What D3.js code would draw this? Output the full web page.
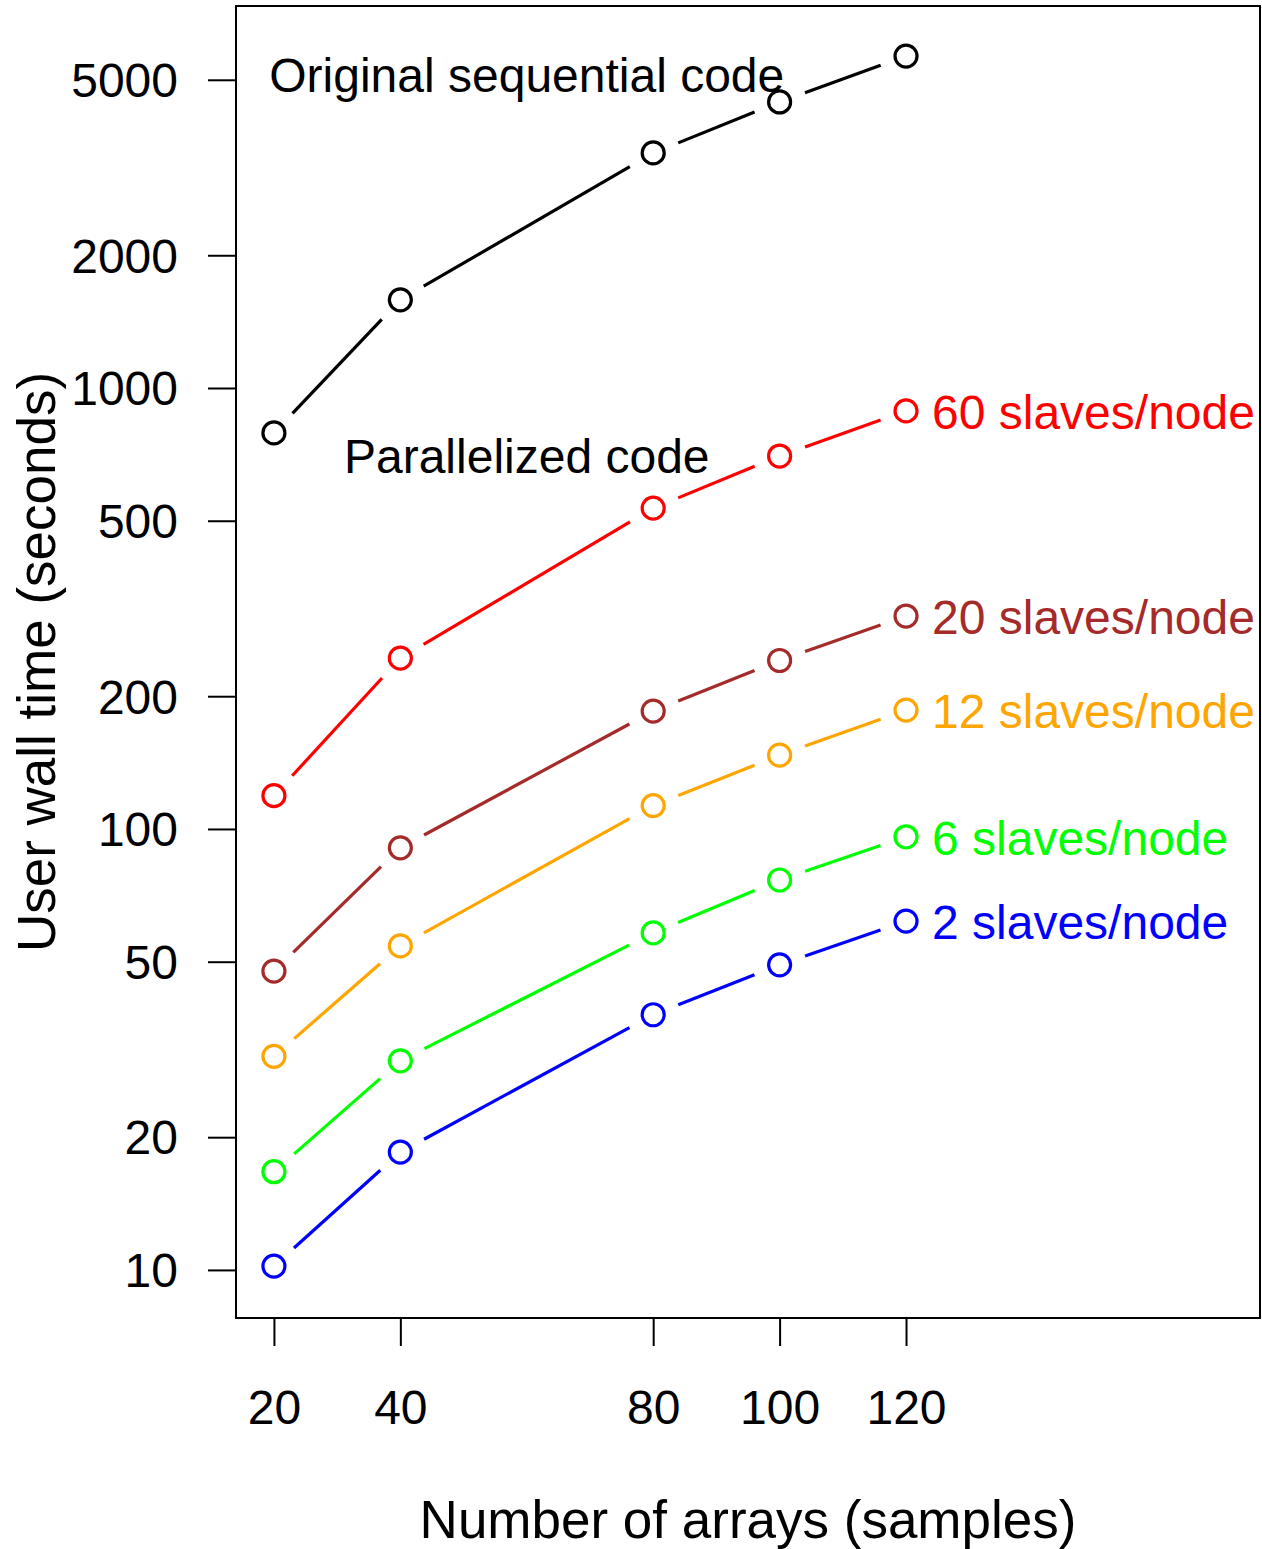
<!DOCTYPE html>
<html><head><meta charset="utf-8">
<script src="https://cdn.jsdelivr.net/npm/d3@7"></script>
<style>body{margin:0;background:#fff}text{font-family:"Liberation Sans",Arial,sans-serif}</style>
</head><body><svg id="c" width="1262" height="1549"></svg>
<script>
const arrays = [20, 40, 80, 100, 120];
const seqTimes = [791, 1585, 3412, 4453, 5660];
const s60 = [119, 244, 534, 701, 887];
const s20 = [47.6, 90.6, 185, 241, 304];
const s12 = [30.5, 54.3, 113, 147, 186];
const s6 = [16.7, 29.8, 58.1, 76.6, 96.0];
const s2 = [10.2, 18.5, 37.9, 49.2, 61.8];
const seriesNames = ["Original", "60 slaves/node", "20 slaves/node", "12 slaves/node", "6 slaves/node", "2 slaves/node"];
const seriesColors = ["#000000", "#FF0000", "#A52A2A", "#FFA500", "#00FF00", "#0000FF"];
const seriesValues = [seqTimes, s60, s20, s12, s6, s2];
const yTicks = [10, 20, 50, 100, 200, 500, 1000, 2000, 5000];
const xTicks = [20, 40, 80, 100, 120];

const svg = d3.select("#c");
const L = 236, R = 1260, T = 6, B = 1318;
const x = d3.scaleLinear().domain([14, 176]).range([L, R]);
const y = d3.scaleLog().domain([7.78, 7350]).range([B, T]);

svg.append("rect").attr("x", L).attr("y", T).attr("width", R - L).attr("height", B - T)
  .attr("fill", "none").attr("stroke", "#000").attr("stroke-width", 2);

const yAxis = svg.append("g").attr("transform", `translate(${L},0)`)
  .call(d3.axisLeft(y).tickValues(yTicks).tickFormat(d3.format("d")).tickSize(28).tickPadding(30));
yAxis.select(".domain").remove();
yAxis.selectAll("line").attr("stroke-width", 2);
yAxis.selectAll("text").attr("font-size", 48).attr("fill", "#000").attr("dy", "0.35em");

const xAxis = svg.append("g").attr("transform", `translate(0,${B})`)
  .call(d3.axisBottom(x).tickValues(xTicks).tickFormat(d3.format("d")).tickSize(28).tickPadding(44));
xAxis.select(".domain").remove();
xAxis.selectAll("line").attr("stroke-width", 2);
xAxis.selectAll("text").attr("font-size", 48).attr("fill", "#000").attr("dy", "0.71em");

svg.append("text").attr("x", (L + R) / 2).attr("y", 1538).attr("text-anchor", "middle")
  .attr("font-size", 53).text("Number of arrays (samples)");
svg.append("text").attr("transform", `translate(55,${(T + B) / 2}) rotate(-90)`).attr("text-anchor", "middle")
  .attr("font-size", 53).text("User wall time (seconds)");

const gap = 27, r = 11;
seriesValues.forEach((vals, si) => {
  const col = seriesColors[si];
  const pts = vals.map((v, i) => [x(arrays[i]), y(v)]);
  for (let i = 0; i < pts.length - 1; i++) {
    const [x1, y1] = pts[i], [x2, y2] = pts[i + 1];
    const dx = x2 - x1, dy = y2 - y1, len = Math.hypot(dx, dy);
    if (len <= 2 * gap) continue;
    const ux = dx / len, uy = dy / len;
    svg.append("line").attr("x1", x1 + ux * gap).attr("y1", y1 + uy * gap)
      .attr("x2", x2 - ux * gap).attr("y2", y2 - uy * gap)
      .attr("stroke", col).attr("stroke-width", 3.2);
  }
  svg.append("g").selectAll("circle").data(pts).join("circle")
    .attr("cx", d => d[0]).attr("cy", d => d[1]).attr("r", r)
    .attr("fill", "none").attr("stroke", col).attr("stroke-width", 3.2);
  if (si > 0) {
    const last = pts[pts.length - 1];
    svg.append("text").attr("x", last[0] + 26).attr("y", last[1]).attr("dy", "0.37em")
      .attr("font-size", 48).attr("fill", col).text(seriesNames[si]);
  }
});

svg.append("text").attr("x", x(60)).attr("y", y(5000)).attr("dy", "0.26em").attr("text-anchor", "middle")
  .attr("font-size", 48).text("Original sequential code");
svg.append("text").attr("x", x(60)).attr("y", y(700)).attr("dy", "0.35em").attr("text-anchor", "middle")
  .attr("font-size", 48).text("Parallelized code");
</script></body></html>
